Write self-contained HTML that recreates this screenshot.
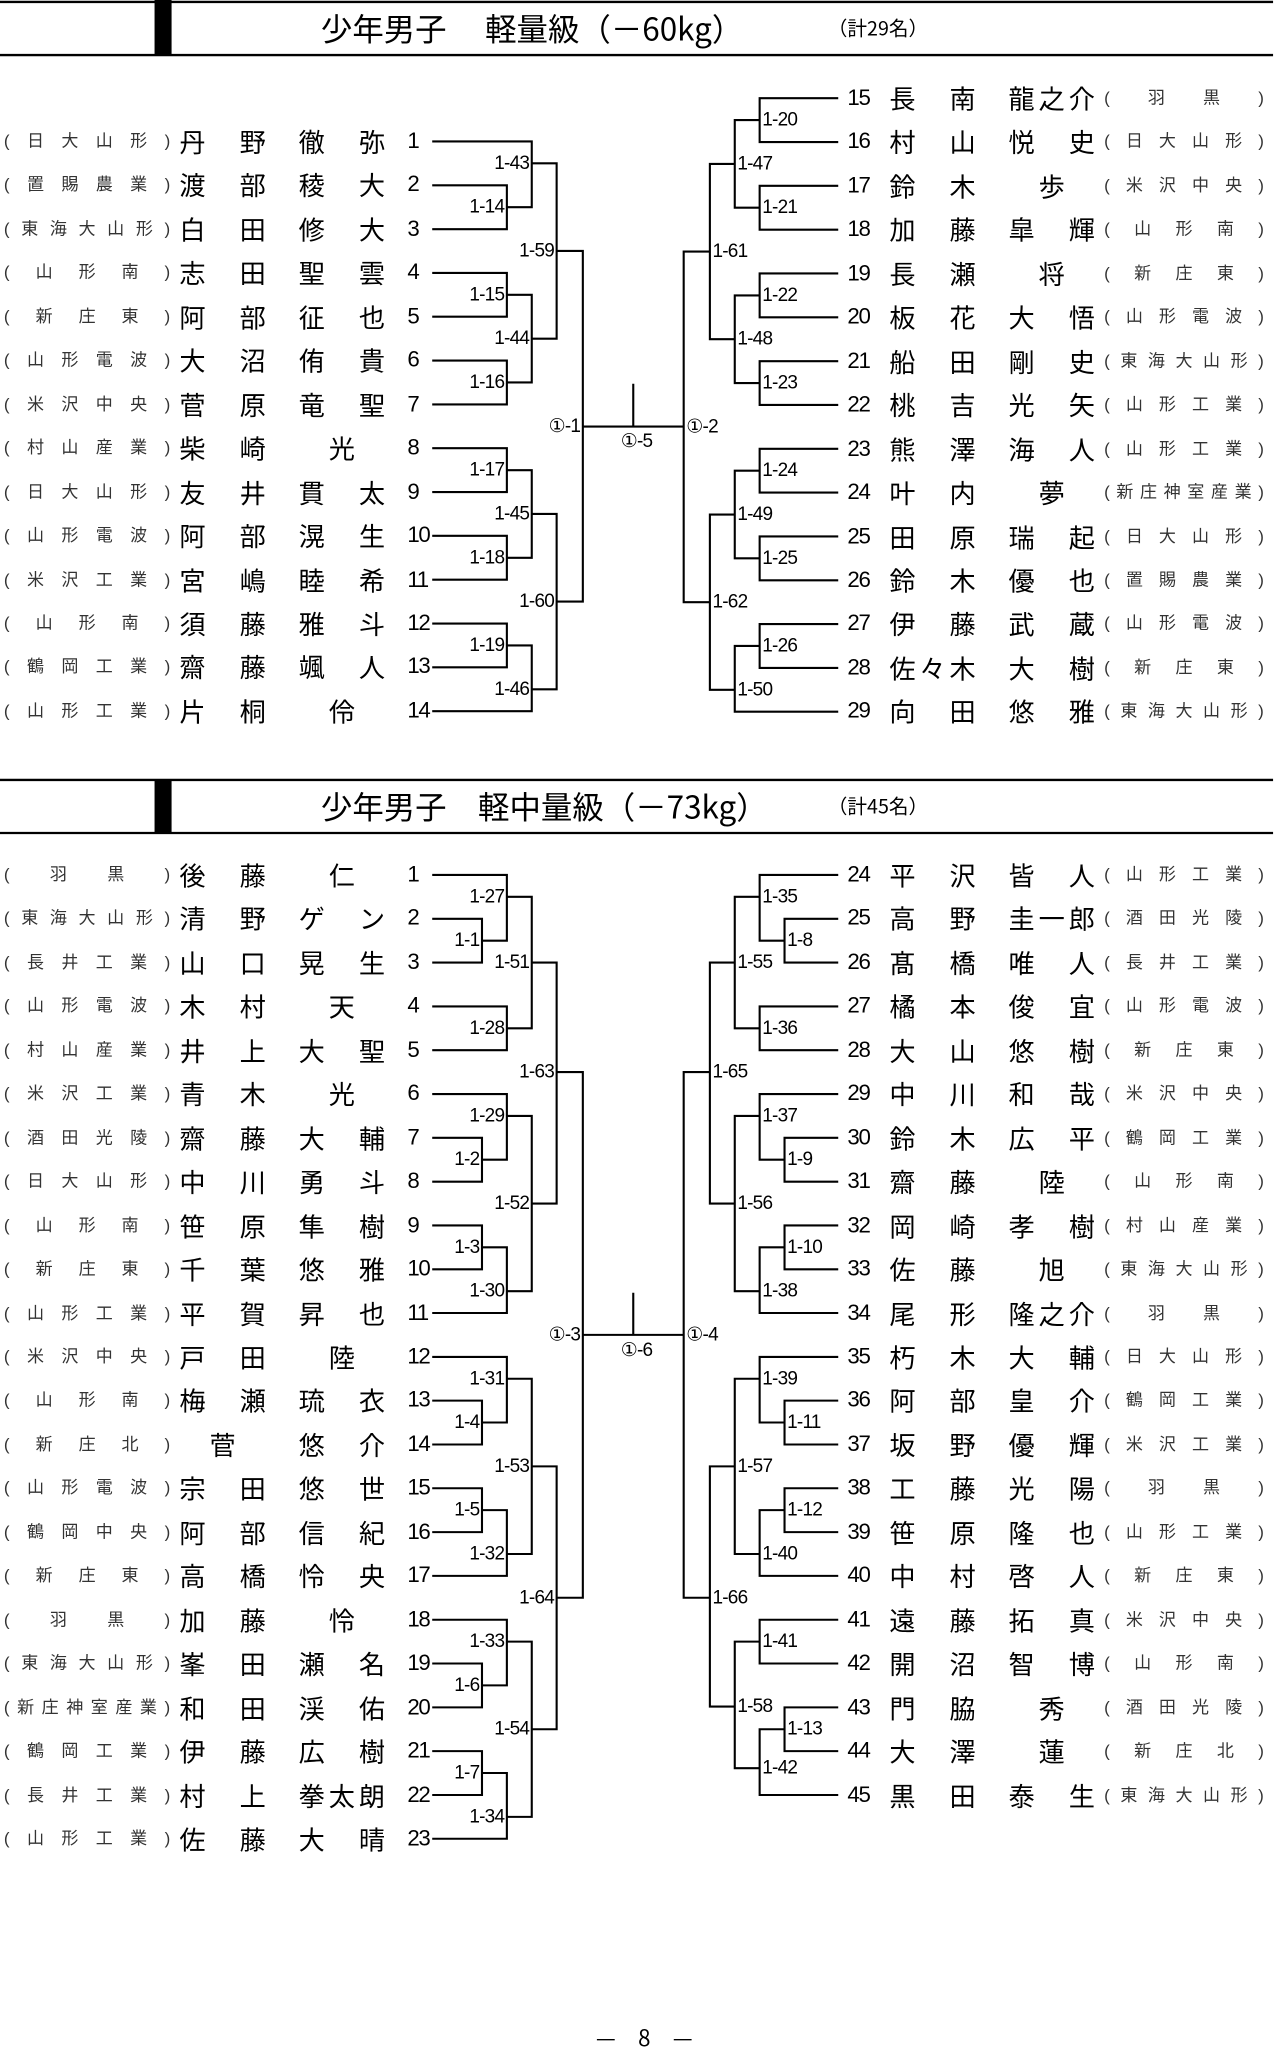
<!DOCTYPE html>
<html><head><meta charset="utf-8">
<style>
html,body{margin:0;padding:0;background:#fff;}
body{width:1277px;height:2048px;overflow:hidden;position:relative;}
#w{position:absolute;left:0;top:0;width:975px;height:1564px;transform:scale(1.30974);transform-origin:0 0;font-family:"Liberation Sans","Noto Sans CJK JP",sans-serif;color:#000;}
.col{position:absolute;width:975px;left:0;}
.r{position:relative;height:33.46px;line-height:24px;}
.s{position:absolute;top:0;height:24px;display:flex;justify-content:space-between;font-size:13px;color:#333;font-family:"Liberation Sans","Noto Sans CJK JP",sans-serif;}
.s i{font-style:normal;}
.L .s{left:3px;width:127px;}
.R .s{left:843px;width:122px;}
.n{position:absolute;top:0;height:24px;font-size:20px;font-family:"Noto Sans CJK JP",sans-serif;}
.n b{position:absolute;top:0;font-weight:400;}
.L .n{left:137px;} .R .n{left:679px;}
.a{left:0}.b{left:46px}.c{left:91px}.d{left:137px}.m{left:114px}.h{left:23px}
.no{position:absolute;top:0;font-size:17px;letter-spacing:-1px;}
.L .no{left:311px;} .R .no{left:647px;}
.tt{position:absolute;font-family:"Noto Sans CJK JP",sans-serif;white-space:pre;}
svg{position:absolute;left:0;top:0;}
svg path{fill:none;stroke:#000;stroke-width:1.6;}
svg text{font-family:"Liberation Sans","DejaVu Sans",sans-serif;font-size:14.5px;letter-spacing:-0.6px;dominant-baseline:central;}
</style></head><body><div id="w">

<svg width="975" height="1564" viewBox="0 0 975 1564">
<path d="M0 1.5H972M0 42H972" style="stroke-width:1.8"/>
<rect x="118" y="0" width="13" height="42" fill="#000"/>
<path d="M0 595.5H972M0 636H972" style="stroke-width:1.8"/>
<rect x="118" y="595" width="13" height="41" fill="#000"/>

<path d="M330 141.5H387V175H330"/>
<path d="M330 108H406V158.2H387"/>
<path d="M330 208.4H387V241.8H330"/>
<path d="M330 275.3H387V308.8H330"/>
<path d="M387 225.1H406V292H387"/>
<path d="M406 124.7H425V258.6H406"/>
<path d="M330 342.2H387V375.7H330"/>
<path d="M330 409.1H387V442.6H330"/>
<path d="M387 359H406V425.9H387"/>
<path d="M330 476.1H387V509.5H330"/>
<path d="M387 492.8H406V543H330"/>
<path d="M406 392.4H425V526.3H406"/>
<path d="M425 191.6H445V459.3H425"/>
<path d="M445 325.7H522M483.5 293V325.7"/>
<path d="M640 75H580V108.5H640"/>
<path d="M640 141.9H580V175.4H640"/>
<path d="M580 91.7H561V158.6H580"/>
<path d="M640 208.8H580V242.3H640"/>
<path d="M640 275.8H580V309.2H640"/>
<path d="M580 225.6H561V292.5H580"/>
<path d="M561 125.2H542V259H561"/>
<path d="M640 342.7H580V376.1H640"/>
<path d="M640 409.6H580V443.1H640"/>
<path d="M580 359.4H561V426.3H580"/>
<path d="M640 476.5H580V510H640"/>
<path d="M580 493.2H561V543.4H640"/>
<path d="M561 392.9H542V526.7H561"/>
<path d="M542 192.1H522V459.8H542"/>

<g text-anchor="end">
<text x="385" y="158.2">1-14</text><text x="404" y="124.7">1-43</text>
<text x="385" y="225.1">1-15</text><text x="385" y="292">1-16</text>
<text x="404" y="258.6">1-44</text><text x="423" y="191.6">1-59</text>
<text x="385" y="359">1-17</text><text x="385" y="425.9">1-18</text>
<text x="404" y="392.4">1-45</text><text x="385" y="492.8">1-19</text>
<text x="404" y="526.3">1-46</text><text x="423" y="459.3">1-60</text>
<text x="443" y="325.7">①-1</text>
</g>
<g text-anchor="start">
<text x="582" y="91.7">1-20</text><text x="582" y="158.6">1-21</text>
<text x="563" y="125.2">1-47</text><text x="582" y="225.6">1-22</text>
<text x="582" y="292.5">1-23</text><text x="563" y="259">1-48</text>
<text x="544" y="192.1">1-61</text><text x="582" y="359.4">1-24</text>
<text x="582" y="426.3">1-25</text><text x="563" y="392.9">1-49</text>
<text x="582" y="493.2">1-26</text><text x="563" y="526.7">1-50</text>
<text x="544" y="459.8">1-62</text><text x="524" y="326">①-2</text>
</g>
<text x="486" y="337" text-anchor="middle">①-5</text>

<path d="M330 701.5H368V734.9H330"/>
<path d="M330 668H387V718.2H368"/>
<path d="M330 768.4H387V801.8H330"/>
<path d="M387 684.7H406V785.1H387"/>
<path d="M330 868.7H368V902.2H330"/>
<path d="M330 835.3H387V885.4H368"/>
<path d="M330 935.6H368V969.1H330"/>
<path d="M368 952.3H387V1002.5H330"/>
<path d="M387 852H406V985.8H387"/>
<path d="M406 734.9H425V918.9H406"/>
<path d="M330 1069.4H368V1102.9H330"/>
<path d="M330 1036H387V1086.1H368"/>
<path d="M330 1136.3H368V1169.8H330"/>
<path d="M368 1153H387V1203.2H330"/>
<path d="M387 1052.7H406V1186.5H387"/>
<path d="M330 1270.1H368V1303.6H330"/>
<path d="M330 1236.7H387V1286.8H368"/>
<path d="M330 1337H368V1370.5H330"/>
<path d="M368 1353.7H387V1403.9H330"/>
<path d="M387 1253.4H406V1387.2H387"/>
<path d="M406 1119.6H425V1320.3H406"/>
<path d="M425 818.5H445V1219.9H425"/>
<path d="M445 1019.2H522M483.5 987V1019.2"/>
<path d="M640 701.5H599V734.9H640"/>
<path d="M640 668H580V718.2H599"/>
<path d="M640 768.4H580V801.8H640"/>
<path d="M580 684.7H561V785.1H580"/>
<path d="M640 868.7H599V902.2H640"/>
<path d="M640 835.3H580V885.4H599"/>
<path d="M640 935.6H599V969.1H640"/>
<path d="M599 952.3H580V1002.5H640"/>
<path d="M580 852H561V985.8H580"/>
<path d="M561 734.9H542V918.9H561"/>
<path d="M640 1069.4H599V1102.9H640"/>
<path d="M640 1036H580V1086.1H599"/>
<path d="M640 1136.3H599V1169.8H640"/>
<path d="M599 1153H580V1203.2H640"/>
<path d="M580 1052.7H561V1186.5H580"/>
<path d="M640 1236.7H580V1270.1H640"/>
<path d="M640 1303.6H599V1337H640"/>
<path d="M599 1320.3H580V1370.5H640"/>
<path d="M580 1253.4H561V1350H580"/>
<path d="M561 1119.6H542V1303H561"/>
<path d="M542 818.5H522V1219.9H542"/>

<g text-anchor="end">
<text x="366" y="718.2">1-1</text><text x="385" y="684.7">1-27</text>
<text x="385" y="785.1">1-28</text><text x="404" y="734.9">1-51</text>
<text x="366" y="885.4">1-2</text><text x="385" y="852">1-29</text>
<text x="366" y="952.3">1-3</text><text x="385" y="985.8">1-30</text>
<text x="404" y="918.9">1-52</text><text x="423" y="818.5">1-63</text>
<text x="366" y="1086.1">1-4</text><text x="385" y="1052.7">1-31</text>
<text x="366" y="1153">1-5</text><text x="385" y="1186.5">1-32</text>
<text x="404" y="1119.6">1-53</text><text x="366" y="1286.8">1-6</text>
<text x="385" y="1253.4">1-33</text><text x="366" y="1353.7">1-7</text>
<text x="385" y="1387.2">1-34</text><text x="404" y="1320.3">1-54</text>
<text x="423" y="1219.9">1-64</text><text x="443" y="1019.2">①-3</text>
</g>
<g text-anchor="start">
<text x="601" y="718.2">1-8</text><text x="582" y="684.7">1-35</text>
<text x="582" y="785.1">1-36</text><text x="563" y="734.9">1-55</text>
<text x="601" y="885.4">1-9</text><text x="582" y="852">1-37</text>
<text x="601" y="952.3">1-10</text><text x="582" y="985.8">1-38</text>
<text x="563" y="918.9">1-56</text><text x="544" y="818.5">1-65</text>
<text x="601" y="1086.1">1-11</text><text x="582" y="1052.7">1-39</text>
<text x="601" y="1153">1-12</text><text x="582" y="1186.5">1-40</text>
<text x="563" y="1119.6">1-57</text><text x="582" y="1253.4">1-41</text>
<text x="601" y="1320.3">1-13</text><text x="582" y="1350">1-42</text>
<text x="563" y="1303">1-58</text><text x="544" y="1219.9">1-66</text>
<text x="524" y="1019.2">①-4</text>
</g>
<text x="486" y="1031" text-anchor="middle">①-6</text>
</svg>

<div class="tt" style="left:245px;top:5px;font-size:24px;line-height:32px;">少年男子　 軽量級（－60kg）</div>
<div class="tt" style="left:632px;top:12px;font-size:15px;line-height:20px;">（計29名）</div>
<div class="tt" style="left:245px;top:599px;font-size:24px;line-height:32px;">少年男子　軽中量級（－73kg）</div>
<div class="tt" style="left:632px;top:606px;font-size:15px;line-height:20px;">（計45名）</div>
<div class="tt" style="left:455px;top:1543px;font-size:17px;line-height:24px;">—　8　—</div>

<div class="col L" style="top:96px">
<div class="r"><span class="s"><i>(</i><i>日</i><i>大</i><i>山</i><i>形</i><i>)</i></span><span class="n"><b class="a">丹</b><b class="b">野</b><b class="c">徹</b><b class="d">弥</b></span><span class="no">1</span></div>
<div class="r"><span class="s"><i>(</i><i>置</i><i>賜</i><i>農</i><i>業</i><i>)</i></span><span class="n"><b class="a">渡</b><b class="b">部</b><b class="c">稜</b><b class="d">大</b></span><span class="no">2</span></div>
<div class="r"><span class="s"><i>(</i><i>東</i><i>海</i><i>大</i><i>山</i><i>形</i><i>)</i></span><span class="n"><b class="a">白</b><b class="b">田</b><b class="c">修</b><b class="d">大</b></span><span class="no">3</span></div>
<div class="r"><span class="s"><i>(</i><i>山</i><i>形</i><i>南</i><i>)</i></span><span class="n"><b class="a">志</b><b class="b">田</b><b class="c">聖</b><b class="d">雲</b></span><span class="no">4</span></div>
<div class="r"><span class="s"><i>(</i><i>新</i><i>庄</i><i>東</i><i>)</i></span><span class="n"><b class="a">阿</b><b class="b">部</b><b class="c">征</b><b class="d">也</b></span><span class="no">5</span></div>
<div class="r"><span class="s"><i>(</i><i>山</i><i>形</i><i>電</i><i>波</i><i>)</i></span><span class="n"><b class="a">大</b><b class="b">沼</b><b class="c">侑</b><b class="d">貴</b></span><span class="no">6</span></div>
<div class="r"><span class="s"><i>(</i><i>米</i><i>沢</i><i>中</i><i>央</i><i>)</i></span><span class="n"><b class="a">菅</b><b class="b">原</b><b class="c">竜</b><b class="d">聖</b></span><span class="no">7</span></div>
<div class="r"><span class="s"><i>(</i><i>村</i><i>山</i><i>産</i><i>業</i><i>)</i></span><span class="n"><b class="a">柴</b><b class="b">崎</b><b class="m">光</b></span><span class="no">8</span></div>
<div class="r"><span class="s"><i>(</i><i>日</i><i>大</i><i>山</i><i>形</i><i>)</i></span><span class="n"><b class="a">友</b><b class="b">井</b><b class="c">貫</b><b class="d">太</b></span><span class="no">9</span></div>
<div class="r"><span class="s"><i>(</i><i>山</i><i>形</i><i>電</i><i>波</i><i>)</i></span><span class="n"><b class="a">阿</b><b class="b">部</b><b class="c">滉</b><b class="d">生</b></span><span class="no">10</span></div>
<div class="r"><span class="s"><i>(</i><i>米</i><i>沢</i><i>工</i><i>業</i><i>)</i></span><span class="n"><b class="a">宮</b><b class="b">嶋</b><b class="c">睦</b><b class="d">希</b></span><span class="no">11</span></div>
<div class="r"><span class="s"><i>(</i><i>山</i><i>形</i><i>南</i><i>)</i></span><span class="n"><b class="a">須</b><b class="b">藤</b><b class="c">雅</b><b class="d">斗</b></span><span class="no">12</span></div>
<div class="r"><span class="s"><i>(</i><i>鶴</i><i>岡</i><i>工</i><i>業</i><i>)</i></span><span class="n"><b class="a">齋</b><b class="b">藤</b><b class="c">颯</b><b class="d">人</b></span><span class="no">13</span></div>
<div class="r"><span class="s"><i>(</i><i>山</i><i>形</i><i>工</i><i>業</i><i>)</i></span><span class="n"><b class="a">片</b><b class="b">桐</b><b class="m">伶</b></span><span class="no">14</span></div>
</div>

<div class="col R" style="top:63px">
<div class="r"><span class="no">15</span><span class="n"><b class="a">長</b><b class="b">南</b><b class="c">龍</b><b class="m">之</b><b class="d">介</b></span><span class="s"><i>(</i><i>羽</i><i>黒</i><i>)</i></span></div>
<div class="r"><span class="no">16</span><span class="n"><b class="a">村</b><b class="b">山</b><b class="c">悦</b><b class="d">史</b></span><span class="s"><i>(</i><i>日</i><i>大</i><i>山</i><i>形</i><i>)</i></span></div>
<div class="r"><span class="no">17</span><span class="n"><b class="a">鈴</b><b class="b">木</b><b class="m">歩</b></span><span class="s"><i>(</i><i>米</i><i>沢</i><i>中</i><i>央</i><i>)</i></span></div>
<div class="r"><span class="no">18</span><span class="n"><b class="a">加</b><b class="b">藤</b><b class="c">皐</b><b class="d">輝</b></span><span class="s"><i>(</i><i>山</i><i>形</i><i>南</i><i>)</i></span></div>
<div class="r"><span class="no">19</span><span class="n"><b class="a">長</b><b class="b">瀬</b><b class="m">将</b></span><span class="s"><i>(</i><i>新</i><i>庄</i><i>東</i><i>)</i></span></div>
<div class="r"><span class="no">20</span><span class="n"><b class="a">板</b><b class="b">花</b><b class="c">大</b><b class="d">悟</b></span><span class="s"><i>(</i><i>山</i><i>形</i><i>電</i><i>波</i><i>)</i></span></div>
<div class="r"><span class="no">21</span><span class="n"><b class="a">船</b><b class="b">田</b><b class="c">剛</b><b class="d">史</b></span><span class="s"><i>(</i><i>東</i><i>海</i><i>大</i><i>山</i><i>形</i><i>)</i></span></div>
<div class="r"><span class="no">22</span><span class="n"><b class="a">桃</b><b class="b">吉</b><b class="c">光</b><b class="d">矢</b></span><span class="s"><i>(</i><i>山</i><i>形</i><i>工</i><i>業</i><i>)</i></span></div>
<div class="r"><span class="no">23</span><span class="n"><b class="a">熊</b><b class="b">澤</b><b class="c">海</b><b class="d">人</b></span><span class="s"><i>(</i><i>山</i><i>形</i><i>工</i><i>業</i><i>)</i></span></div>
<div class="r"><span class="no">24</span><span class="n"><b class="a">叶</b><b class="b">内</b><b class="m">夢</b></span><span class="s"><i>(</i><i>新</i><i>庄</i><i>神</i><i>室</i><i>産</i><i>業</i><i>)</i></span></div>
<div class="r"><span class="no">25</span><span class="n"><b class="a">田</b><b class="b">原</b><b class="c">瑞</b><b class="d">起</b></span><span class="s"><i>(</i><i>日</i><i>大</i><i>山</i><i>形</i><i>)</i></span></div>
<div class="r"><span class="no">26</span><span class="n"><b class="a">鈴</b><b class="b">木</b><b class="c">優</b><b class="d">也</b></span><span class="s"><i>(</i><i>置</i><i>賜</i><i>農</i><i>業</i><i>)</i></span></div>
<div class="r"><span class="no">27</span><span class="n"><b class="a">伊</b><b class="b">藤</b><b class="c">武</b><b class="d">蔵</b></span><span class="s"><i>(</i><i>山</i><i>形</i><i>電</i><i>波</i><i>)</i></span></div>
<div class="r"><span class="no">28</span><span class="n"><b class="a">佐</b><b class="h">々</b><b class="b">木</b><b class="c">大</b><b class="d">樹</b></span><span class="s"><i>(</i><i>新</i><i>庄</i><i>東</i><i>)</i></span></div>
<div class="r"><span class="no">29</span><span class="n"><b class="a">向</b><b class="b">田</b><b class="c">悠</b><b class="d">雅</b></span><span class="s"><i>(</i><i>東</i><i>海</i><i>大</i><i>山</i><i>形</i><i>)</i></span></div>
</div>

<div class="col L" style="top:656px">
<div class="r"><span class="s"><i>(</i><i>羽</i><i>黒</i><i>)</i></span><span class="n"><b class="a">後</b><b class="b">藤</b><b class="m">仁</b></span><span class="no">1</span></div>
<div class="r"><span class="s"><i>(</i><i>東</i><i>海</i><i>大</i><i>山</i><i>形</i><i>)</i></span><span class="n"><b class="a">清</b><b class="b">野</b><b class="c">ゲ</b><b class="d">ン</b></span><span class="no">2</span></div>
<div class="r"><span class="s"><i>(</i><i>長</i><i>井</i><i>工</i><i>業</i><i>)</i></span><span class="n"><b class="a">山</b><b class="b">口</b><b class="c">晃</b><b class="d">生</b></span><span class="no">3</span></div>
<div class="r"><span class="s"><i>(</i><i>山</i><i>形</i><i>電</i><i>波</i><i>)</i></span><span class="n"><b class="a">木</b><b class="b">村</b><b class="m">天</b></span><span class="no">4</span></div>
<div class="r"><span class="s"><i>(</i><i>村</i><i>山</i><i>産</i><i>業</i><i>)</i></span><span class="n"><b class="a">井</b><b class="b">上</b><b class="c">大</b><b class="d">聖</b></span><span class="no">5</span></div>
<div class="r"><span class="s"><i>(</i><i>米</i><i>沢</i><i>工</i><i>業</i><i>)</i></span><span class="n"><b class="a">青</b><b class="b">木</b><b class="m">光</b></span><span class="no">6</span></div>
<div class="r"><span class="s"><i>(</i><i>酒</i><i>田</i><i>光</i><i>陵</i><i>)</i></span><span class="n"><b class="a">齋</b><b class="b">藤</b><b class="c">大</b><b class="d">輔</b></span><span class="no">7</span></div>
<div class="r"><span class="s"><i>(</i><i>日</i><i>大</i><i>山</i><i>形</i><i>)</i></span><span class="n"><b class="a">中</b><b class="b">川</b><b class="c">勇</b><b class="d">斗</b></span><span class="no">8</span></div>
<div class="r"><span class="s"><i>(</i><i>山</i><i>形</i><i>南</i><i>)</i></span><span class="n"><b class="a">笹</b><b class="b">原</b><b class="c">隼</b><b class="d">樹</b></span><span class="no">9</span></div>
<div class="r"><span class="s"><i>(</i><i>新</i><i>庄</i><i>東</i><i>)</i></span><span class="n"><b class="a">千</b><b class="b">葉</b><b class="c">悠</b><b class="d">雅</b></span><span class="no">10</span></div>
<div class="r"><span class="s"><i>(</i><i>山</i><i>形</i><i>工</i><i>業</i><i>)</i></span><span class="n"><b class="a">平</b><b class="b">賀</b><b class="c">昇</b><b class="d">也</b></span><span class="no">11</span></div>
<div class="r"><span class="s"><i>(</i><i>米</i><i>沢</i><i>中</i><i>央</i><i>)</i></span><span class="n"><b class="a">戸</b><b class="b">田</b><b class="m">陸</b></span><span class="no">12</span></div>
<div class="r"><span class="s"><i>(</i><i>山</i><i>形</i><i>南</i><i>)</i></span><span class="n"><b class="a">梅</b><b class="b">瀬</b><b class="c">琉</b><b class="d">衣</b></span><span class="no">13</span></div>
<div class="r"><span class="s"><i>(</i><i>新</i><i>庄</i><i>北</i><i>)</i></span><span class="n"><b class="h">菅</b><b class="c">悠</b><b class="d">介</b></span><span class="no">14</span></div>
<div class="r"><span class="s"><i>(</i><i>山</i><i>形</i><i>電</i><i>波</i><i>)</i></span><span class="n"><b class="a">宗</b><b class="b">田</b><b class="c">悠</b><b class="d">世</b></span><span class="no">15</span></div>
<div class="r"><span class="s"><i>(</i><i>鶴</i><i>岡</i><i>中</i><i>央</i><i>)</i></span><span class="n"><b class="a">阿</b><b class="b">部</b><b class="c">信</b><b class="d">紀</b></span><span class="no">16</span></div>
<div class="r"><span class="s"><i>(</i><i>新</i><i>庄</i><i>東</i><i>)</i></span><span class="n"><b class="a">高</b><b class="b">橋</b><b class="c">怜</b><b class="d">央</b></span><span class="no">17</span></div>
<div class="r"><span class="s"><i>(</i><i>羽</i><i>黒</i><i>)</i></span><span class="n"><b class="a">加</b><b class="b">藤</b><b class="m">怜</b></span><span class="no">18</span></div>
<div class="r"><span class="s"><i>(</i><i>東</i><i>海</i><i>大</i><i>山</i><i>形</i><i>)</i></span><span class="n"><b class="a">峯</b><b class="b">田</b><b class="c">瀬</b><b class="d">名</b></span><span class="no">19</span></div>
<div class="r"><span class="s"><i>(</i><i>新</i><i>庄</i><i>神</i><i>室</i><i>産</i><i>業</i><i>)</i></span><span class="n"><b class="a">和</b><b class="b">田</b><b class="c">渓</b><b class="d">佑</b></span><span class="no">20</span></div>
<div class="r"><span class="s"><i>(</i><i>鶴</i><i>岡</i><i>工</i><i>業</i><i>)</i></span><span class="n"><b class="a">伊</b><b class="b">藤</b><b class="c">広</b><b class="d">樹</b></span><span class="no">21</span></div>
<div class="r"><span class="s"><i>(</i><i>長</i><i>井</i><i>工</i><i>業</i><i>)</i></span><span class="n"><b class="a">村</b><b class="b">上</b><b class="c">拳</b><b class="m">太</b><b class="d">朗</b></span><span class="no">22</span></div>
<div class="r"><span class="s"><i>(</i><i>山</i><i>形</i><i>工</i><i>業</i><i>)</i></span><span class="n"><b class="a">佐</b><b class="b">藤</b><b class="c">大</b><b class="d">晴</b></span><span class="no">23</span></div>
</div>

<div class="col R" style="top:656px">
<div class="r"><span class="no">24</span><span class="n"><b class="a">平</b><b class="b">沢</b><b class="c">皆</b><b class="d">人</b></span><span class="s"><i>(</i><i>山</i><i>形</i><i>工</i><i>業</i><i>)</i></span></div>
<div class="r"><span class="no">25</span><span class="n"><b class="a">高</b><b class="b">野</b><b class="c">圭</b><b class="m">一</b><b class="d">郎</b></span><span class="s"><i>(</i><i>酒</i><i>田</i><i>光</i><i>陵</i><i>)</i></span></div>
<div class="r"><span class="no">26</span><span class="n"><b class="a">髙</b><b class="b">橋</b><b class="c">唯</b><b class="d">人</b></span><span class="s"><i>(</i><i>長</i><i>井</i><i>工</i><i>業</i><i>)</i></span></div>
<div class="r"><span class="no">27</span><span class="n"><b class="a">橘</b><b class="b">本</b><b class="c">俊</b><b class="d">宜</b></span><span class="s"><i>(</i><i>山</i><i>形</i><i>電</i><i>波</i><i>)</i></span></div>
<div class="r"><span class="no">28</span><span class="n"><b class="a">大</b><b class="b">山</b><b class="c">悠</b><b class="d">樹</b></span><span class="s"><i>(</i><i>新</i><i>庄</i><i>東</i><i>)</i></span></div>
<div class="r"><span class="no">29</span><span class="n"><b class="a">中</b><b class="b">川</b><b class="c">和</b><b class="d">哉</b></span><span class="s"><i>(</i><i>米</i><i>沢</i><i>中</i><i>央</i><i>)</i></span></div>
<div class="r"><span class="no">30</span><span class="n"><b class="a">鈴</b><b class="b">木</b><b class="c">広</b><b class="d">平</b></span><span class="s"><i>(</i><i>鶴</i><i>岡</i><i>工</i><i>業</i><i>)</i></span></div>
<div class="r"><span class="no">31</span><span class="n"><b class="a">齋</b><b class="b">藤</b><b class="m">陸</b></span><span class="s"><i>(</i><i>山</i><i>形</i><i>南</i><i>)</i></span></div>
<div class="r"><span class="no">32</span><span class="n"><b class="a">岡</b><b class="b">崎</b><b class="c">孝</b><b class="d">樹</b></span><span class="s"><i>(</i><i>村</i><i>山</i><i>産</i><i>業</i><i>)</i></span></div>
<div class="r"><span class="no">33</span><span class="n"><b class="a">佐</b><b class="b">藤</b><b class="m">旭</b></span><span class="s"><i>(</i><i>東</i><i>海</i><i>大</i><i>山</i><i>形</i><i>)</i></span></div>
<div class="r"><span class="no">34</span><span class="n"><b class="a">尾</b><b class="b">形</b><b class="c">隆</b><b class="m">之</b><b class="d">介</b></span><span class="s"><i>(</i><i>羽</i><i>黒</i><i>)</i></span></div>
<div class="r"><span class="no">35</span><span class="n"><b class="a">朽</b><b class="b">木</b><b class="c">大</b><b class="d">輔</b></span><span class="s"><i>(</i><i>日</i><i>大</i><i>山</i><i>形</i><i>)</i></span></div>
<div class="r"><span class="no">36</span><span class="n"><b class="a">阿</b><b class="b">部</b><b class="c">皇</b><b class="d">介</b></span><span class="s"><i>(</i><i>鶴</i><i>岡</i><i>工</i><i>業</i><i>)</i></span></div>
<div class="r"><span class="no">37</span><span class="n"><b class="a">坂</b><b class="b">野</b><b class="c">優</b><b class="d">輝</b></span><span class="s"><i>(</i><i>米</i><i>沢</i><i>工</i><i>業</i><i>)</i></span></div>
<div class="r"><span class="no">38</span><span class="n"><b class="a">工</b><b class="b">藤</b><b class="c">光</b><b class="d">陽</b></span><span class="s"><i>(</i><i>羽</i><i>黒</i><i>)</i></span></div>
<div class="r"><span class="no">39</span><span class="n"><b class="a">笹</b><b class="b">原</b><b class="c">隆</b><b class="d">也</b></span><span class="s"><i>(</i><i>山</i><i>形</i><i>工</i><i>業</i><i>)</i></span></div>
<div class="r"><span class="no">40</span><span class="n"><b class="a">中</b><b class="b">村</b><b class="c">啓</b><b class="d">人</b></span><span class="s"><i>(</i><i>新</i><i>庄</i><i>東</i><i>)</i></span></div>
<div class="r"><span class="no">41</span><span class="n"><b class="a">遠</b><b class="b">藤</b><b class="c">拓</b><b class="d">真</b></span><span class="s"><i>(</i><i>米</i><i>沢</i><i>中</i><i>央</i><i>)</i></span></div>
<div class="r"><span class="no">42</span><span class="n"><b class="a">開</b><b class="b">沼</b><b class="c">智</b><b class="d">博</b></span><span class="s"><i>(</i><i>山</i><i>形</i><i>南</i><i>)</i></span></div>
<div class="r"><span class="no">43</span><span class="n"><b class="a">門</b><b class="b">脇</b><b class="m">秀</b></span><span class="s"><i>(</i><i>酒</i><i>田</i><i>光</i><i>陵</i><i>)</i></span></div>
<div class="r"><span class="no">44</span><span class="n"><b class="a">大</b><b class="b">澤</b><b class="m">蓮</b></span><span class="s"><i>(</i><i>新</i><i>庄</i><i>北</i><i>)</i></span></div>
<div class="r"><span class="no">45</span><span class="n"><b class="a">黒</b><b class="b">田</b><b class="c">泰</b><b class="d">生</b></span><span class="s"><i>(</i><i>東</i><i>海</i><i>大</i><i>山</i><i>形</i><i>)</i></span></div>
</div>

</div></body></html>
